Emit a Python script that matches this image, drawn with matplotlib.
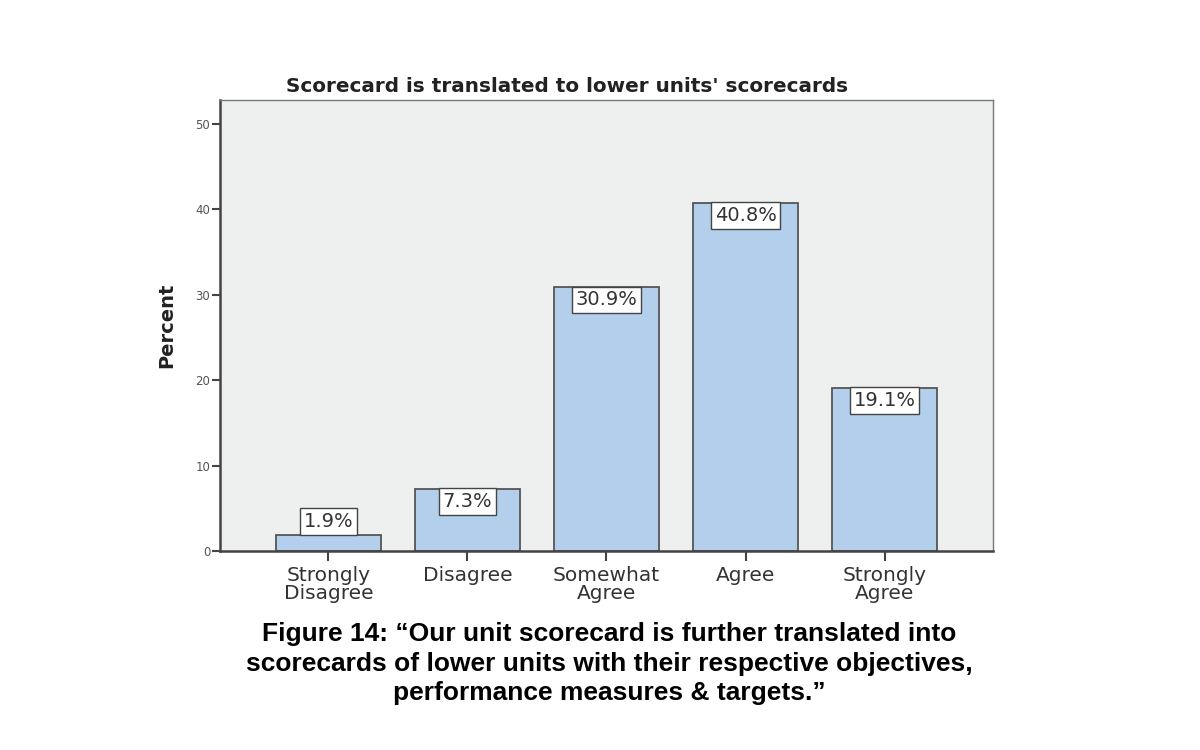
import matplotlib.pyplot as plt

# Data
categories = ['Strongly\nDisagree', 'Disagree', 'Somewhat\nAgree', 'Agree', 'Strongly\nAgree']
percent = [1.9, 7.3, 30.9, 40.8, 19.1]
labels = ['1.9%', '7.3%', '30.9%', '40.8%', '19.1%']
yticks = [0, 10, 20, 30, 40, 50]

fig = plt.figure(figsize=(12, 7.5), dpi=100)
ax = fig.add_axes([0.1833, 0.2653, 0.6442, 0.6013])
ax.set_facecolor('#eef0ef')

x = range(len(categories))
ax.bar(x, percent, width=0.755, color='#b3cfeb', edgecolor='#555555', linewidth=1.3, zorder=2)

# value boxes: small bar gets its box on top, others hang inside from the bar top
box = dict(boxstyle='square,pad=0.2', fc='white', ec='#444444', lw=1)
for i, (v, lab) in enumerate(zip(percent, labels)):
    if v < 5:
        ax.annotate(lab, (i, v), xytext=(0, 3.0), textcoords='offset points',
                    ha='center', va='bottom', fontsize=14, color='#333333', zorder=3, bbox=box)
    else:
        ax.annotate(lab, (i, v), xytext=(0, -2.4), textcoords='offset points',
                    ha='center', va='top', fontsize=14, color='#333333', zorder=3, bbox=box)

ax.set_xlim(-0.78, 4.78)
ax.set_ylim(0, 52.8)
ax.set_yticks(yticks)
ax.set_yticklabels([str(t) for t in yticks], fontsize=8.5, color='#555555')
ax.set_xticks(list(x))
ax.set_xticklabels(categories, fontsize=14.5, color='#333333', linespacing=0.92)
ax.tick_params(axis='y', length=6, width=1.5, color='#444444', pad=1)
ax.tick_params(axis='x', length=7, width=1.5, color='#444444', pad=4)

for side in ['left', 'bottom']:
    ax.spines[side].set_linewidth(1.8)
    ax.spines[side].set_color('#444444')
for side in ['top', 'right']:
    ax.spines[side].set_linewidth(1.0)
    ax.spines[side].set_color('#777777')

fig.text(0.4725, 0.884, "Scorecard is translated to lower units' scorecards", fontsize=14.4,
         fontweight='bold', color='#222222', ha='center', va='center')
ax.set_ylabel('Percent', fontsize=14, fontweight='bold', color='#222222', labelpad=14)

fig.text(0.508, 0.115,
         'Figure 14: \u201cOur unit scorecard is further translated into\n'
         'scorecards of lower units with their respective objectives,\n'
         'performance measures & targets.\u201d',
         ha='center', va='center', fontsize=19, fontweight='bold',
         family='Liberation Sans', linespacing=1.3)

fig.savefig('out.png', dpi=100, facecolor='white')
